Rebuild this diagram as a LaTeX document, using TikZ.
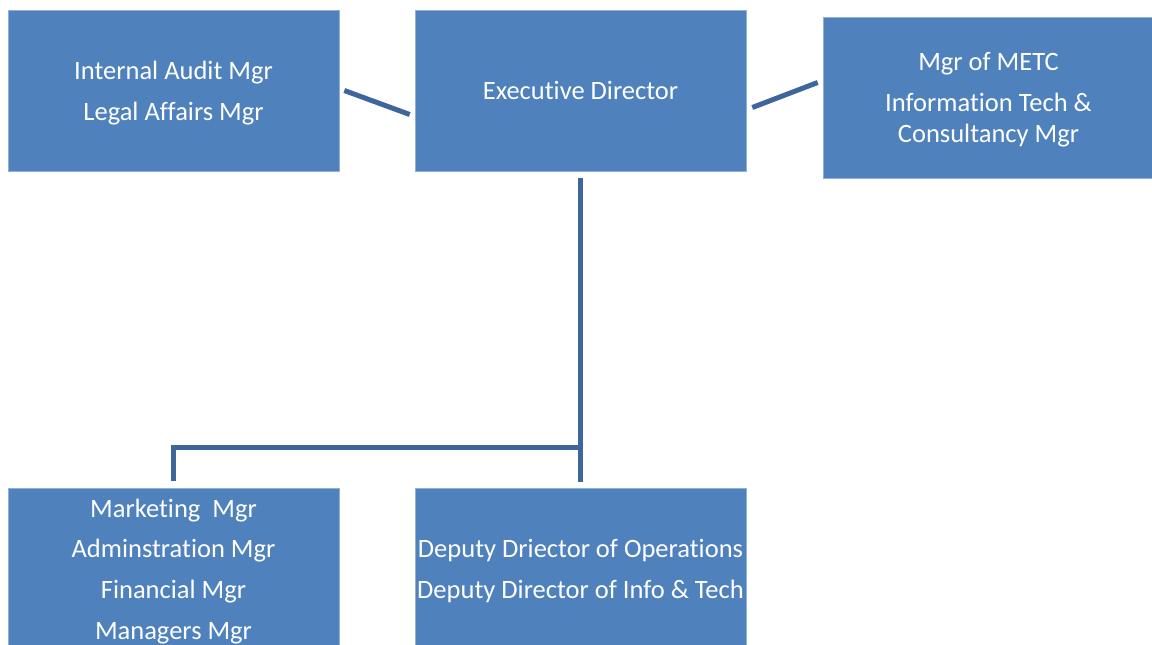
\documentclass[tikz,border=0pt]{standalone}
\usepackage{fontspec}
\setmainfont{Carlito}[Ligatures={NoCommon}]
\usetikzlibrary{calc}
\definecolor{boxfill}{HTML}{4F81BD}
\definecolor{boxedge}{HTML}{8FB0D8}
\definecolor{linkcol}{HTML}{3D679C}
\begin{document}
\begin{tikzpicture}[x=1pt,y=-1pt,
  orgbox/.style={draw=boxedge, line width=0.6pt, fill=boxfill, text=white,
    align=center, font=\fontsize{26.5}{30.5}\selectfont, inner sep=0pt,
    text depth=0pt},
  link/.style={draw=linkcol, line width=5pt}]
\useasboundingbox (0,0) rectangle (1152,645);
\clip (0,0) rectangle (1152,645);
% top row
\node[orgbox, minimum width=331pt, minimum height=161pt] (audit) at (173.5,90.5)
  {Internal Audit Mgr\\[10.2pt]Legal Affairs Mgr};
\node[orgbox, minimum width=331pt, minimum height=161pt] (exec) at (580.5,90.5)
  {Executive Director};
\node[orgbox, minimum width=331pt, minimum height=161pt] (metc) at (988.5,97.5)
  {Mgr of METC\\[10.2pt]Information Tech \&\\Consultancy Mgr};
% bottom row
\node[orgbox, minimum width=331pt, minimum height=162pt] (mkt) at (173.5,569)
  {Marketing\ \ Mgr\\[10.2pt]Adminstration Mgr\\[10.2pt]Financial Mgr\\[10.2pt]Managers Mgr};
\node[orgbox, minimum width=331pt, minimum height=162pt] (dep) at (580.5,569)
  {Deputy Driector of Operations\\[10.2pt]Deputy Director of Info \& Tech};
% connectors
\coordinate (auditlink) at ($(audit.east)+(5,0)$);
\coordinate (execlinkL) at ($(exec.west)+(-5,24)$);
\coordinate (execlinkR) at ($(exec.east)+(6,17)$);
\coordinate (metclink) at ($(metc.west)+(-5,-15)$);
\coordinate (bus) at ($(exec.south)!0.874!(dep.north)$);
\coordinate (busL) at (mkt.north |- bus);
\draw[link] (auditlink) -- (execlinkL);
\draw[link] (execlinkR) -- (metclink);
\draw[link, shorten <=7pt, shorten >=6pt] (exec.south) -- (dep.north);
\draw[link, line join=miter] (bus) -- (busL) -- ([yshift=7pt]mkt.north);
\end{tikzpicture}
\end{document}
